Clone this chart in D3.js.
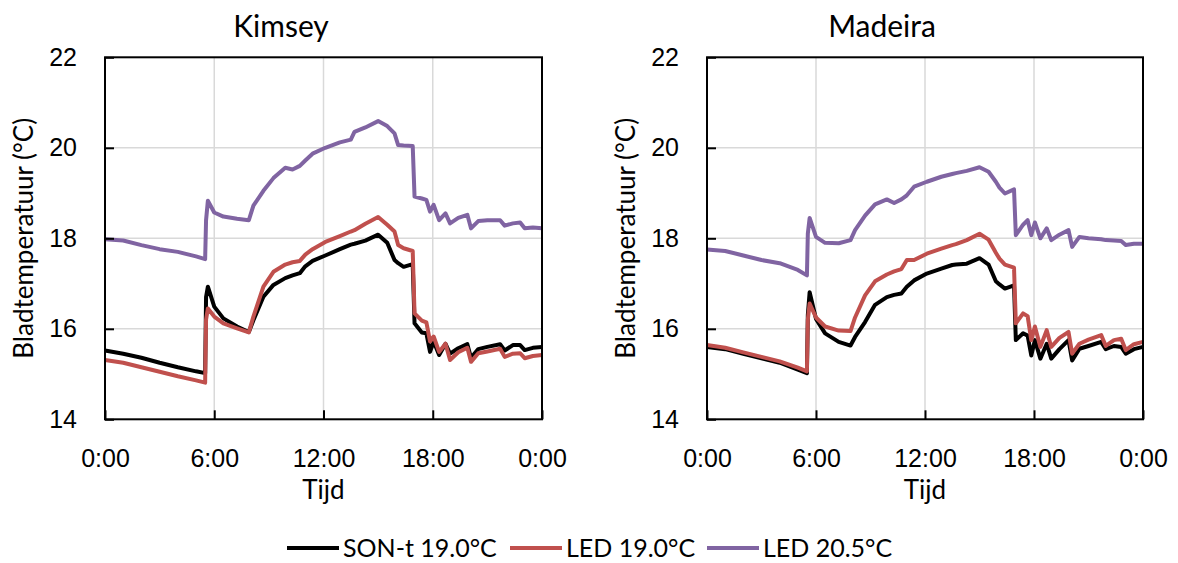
<!DOCTYPE html>
<html>
<head>
<meta charset="utf-8">
<script src="https://cdn.jsdelivr.net/npm/d3@7"></script>
<style>
  body { margin: 0; background: #fff; }
  svg { display: block; font-family: Lato, "Open Sans", sans-serif; }
</style>
</head>
<body>
<svg id="chart" width="1178" height="563"></svg>
<script>
// time of day in hours (shared by both panels)
const hours = [0, 1, 2, 3, 4, 5, 5.5, 5.55, 5.65, 6.0, 6.5, 7.25, 7.9, 8.15, 8.7, 9.25, 9.9, 10.3, 10.7, 11.0,
  11.4, 12.1, 12.9, 13.5, 13.7, 14.3, 15.0, 15.5, 15.9, 16.1, 16.4, 16.9, 17.0, 17.4, 17.65, 17.85, 18.05,
  18.35, 18.7, 18.95, 19.4, 19.9, 20.1, 20.5, 21.0, 21.7, 21.95, 22.4, 22.8, 23.05, 23.5, 24];

// Kimsey
const kimseySon = [15.52, 15.45, 15.36, 15.25, 15.15, 15.06, 15.02, 16.7, 16.93, 16.49, 16.23, 16.05, 15.93, 16.19,
  16.71, 16.97, 17.12, 17.18, 17.23, 17.38, 17.50, 17.62, 17.76, 17.86, 17.88, 17.95, 18.08, 17.90, 17.52, 17.45,
  17.37, 17.43, 16.12, 15.92, 15.90, 15.49, 15.72, 15.42, 15.67, 15.45, 15.57, 15.66, 15.36, 15.55, 15.60, 15.66,
  15.52, 15.64, 15.64, 15.53, 15.58, 15.60];
const kimseyLed19 = [15.31, 15.25, 15.15, 15.05, 14.95, 14.86, 14.81, 16.2, 16.45, 16.27, 16.12, 16.01, 15.92, 16.27,
  16.93, 17.26, 17.42, 17.47, 17.50, 17.64, 17.76, 17.92, 18.05, 18.15, 18.18, 18.32, 18.47, 18.30, 18.15, 17.85,
  17.78, 17.72, 16.34, 16.18, 16.14, 15.72, 15.83, 15.49, 15.67, 15.31, 15.48, 15.58, 15.27, 15.46, 15.50, 15.56,
  15.38, 15.45, 15.46, 15.35, 15.40, 15.42];
const kimseyLed205 = [17.98, 17.95, 17.85, 17.76, 17.70, 17.60, 17.54, 18.4, 18.83, 18.57, 18.48, 18.43, 18.40, 18.72,
  19.05, 19.33, 19.56, 19.52, 19.60, 19.72, 19.87, 20.00, 20.12, 20.18, 20.35, 20.45, 20.59, 20.48, 20.32, 20.06,
  20.05, 20.04, 18.92, 18.88, 18.85, 18.59, 18.74, 18.40, 18.55, 18.33, 18.45, 18.52, 18.22, 18.38, 18.40, 18.40,
  18.28, 18.33, 18.35, 18.22, 18.24, 18.22];

// Madeira
const madeiraSon = [15.60, 15.55, 15.45, 15.35, 15.25, 15.10, 15.02, 16.3, 16.81, 16.22, 15.90, 15.71, 15.63, 15.82,
  16.15, 16.53, 16.70, 16.75, 16.78, 16.93, 17.07, 17.22, 17.33, 17.41, 17.42, 17.44, 17.56, 17.42, 17.05, 16.98,
  16.89, 16.96, 15.75, 15.90, 15.85, 15.41, 15.75, 15.34, 15.67, 15.34, 15.55, 15.75, 15.30, 15.56, 15.62, 15.71,
  15.55, 15.62, 15.60, 15.45, 15.55, 15.60];
const madeiraLed19 = [15.64, 15.58, 15.48, 15.38, 15.28, 15.14, 15.06, 16.2, 16.56, 16.25, 16.05, 15.96, 15.95, 16.25,
  16.74, 17.05, 17.20, 17.27, 17.32, 17.52, 17.52, 17.66, 17.77, 17.85, 17.87, 17.96, 18.10, 17.97, 17.68, 17.55,
  17.42, 17.35, 16.12, 16.34, 16.28, 15.75, 16.05, 15.60, 15.97, 15.60, 15.80, 15.93, 15.45, 15.67, 15.76, 15.86,
  15.62, 15.75, 15.78, 15.53, 15.66, 15.71];
const madeiraLed205 = [17.75, 17.72, 17.62, 17.52, 17.45, 17.30, 17.18, 18.1, 18.45, 18.03, 17.90, 17.89, 17.96, 18.18,
  18.50, 18.75, 18.86, 18.78, 18.86, 18.95, 19.14, 19.25, 19.36, 19.42, 19.44, 19.49, 19.57, 19.47, 19.25, 19.12,
  18.99, 19.08, 18.07, 18.30, 18.40, 18.07, 18.35, 18.00, 18.22, 17.96, 18.08, 18.18, 17.81, 18.03, 18.00, 17.98,
  17.96, 17.95, 17.94, 17.85, 17.88, 17.88];

const seriesNames = ["SON-t 19.0°C", "LED 19.0°C", "LED 20.5°C"];
const seriesColors = ["#000000", "#C0504D", "#8064A2"];
const xTicks = [0, 6, 12, 18, 24];
const xTickLabels = ["0:00", "6:00", "12:00", "18:00", "0:00"];
const yTicks = [14, 16, 18, 20, 22];

const svg = d3.select("#chart");
const plotTop = 57.3, plotBottom = 419.3;

function drawPanel(left, right, titleX, title, series) {
  const x = d3.scaleLinear().domain([0, 24]).range([left, right]);
  const y = d3.scaleLinear().domain([14, 22]).range([plotBottom, plotTop]);
  const g = svg.append("g");

  // grid
  g.selectAll("line.vgrid").data(xTicks.slice(1, -1)).join("line")
    .attr("x1", d => x(d)).attr("x2", d => x(d))
    .attr("y1", plotTop).attr("y2", plotBottom)
    .attr("stroke", "#d9d9d9").attr("stroke-width", 1.5);
  g.selectAll("line.hgrid").data(yTicks.slice(1, -1)).join("line")
    .attr("x1", left).attr("x2", right)
    .attr("y1", d => y(d)).attr("y2", d => y(d))
    .attr("stroke", "#d9d9d9").attr("stroke-width", 1.5);

  // lines
  const line = d3.line().x((d, i) => x(hours[i])).y(d => y(d));
  series.forEach((vals, k) => {
    g.append("path")
      .datum(vals)
      .attr("fill", "none")
      .attr("stroke", seriesColors[k])
      .attr("stroke-width", 4)
      .attr("stroke-linejoin", "round")
      .attr("d", line);
  });

  // axes
  const xAxis = d3.axisBottom(x).tickValues(xTicks)
    .tickFormat((d, i) => xTickLabels[i])
    .tickSizeInner(-9).tickSizeOuter(0).tickPadding(30);
  const ax = g.append("g").attr("transform", `translate(0,${plotBottom})`).call(xAxis);

  const yAxis = d3.axisLeft(y).tickValues(yTicks)
    .tickSizeInner(-9).tickSizeOuter(0).tickPadding(28);
  const ay = g.append("g").attr("transform", `translate(${left},0)`).call(yAxis);

  [ax, ay].forEach(a => {
    a.select(".domain").remove();
    a.selectAll(".tick line").attr("stroke", "#000").attr("stroke-width", 2);
    a.selectAll(".tick text").attr("fill", "#000").style("font-size", "25px");
  });

  // frame
  g.append("rect")
    .attr("x", left).attr("y", plotTop)
    .attr("width", right - left).attr("height", plotBottom - plotTop)
    .attr("fill", "none").attr("stroke", "#000").attr("stroke-width", 2);

  // titles
  g.append("text").attr("x", titleX).attr("y", 37)
    .attr("text-anchor", "middle").style("font-size", "30px").text(title);
  g.append("text").attr("x", (left + right) / 2).attr("y", 499)
    .attr("text-anchor", "middle").style("font-size", "26px").text("Tijd");
  g.append("text")
    .attr("transform", `translate(${left - 72},${(plotTop + plotBottom) / 2}) rotate(-90)`)
    .attr("text-anchor", "middle").style("font-size", "26px").text("Bladtemperatuur (°C)");
}

drawPanel(105, 542, 281, "Kimsey", [kimseySon, kimseyLed19, kimseyLed205]);
drawPanel(707, 1143, 882, "Madeira", [madeiraSon, madeiraLed19, madeiraLed205]);

// legend
const legendX = [287, 510, 707];
const legend = svg.append("g");
seriesNames.forEach((name, i) => {
  legend.append("line")
    .attr("x1", legendX[i]).attr("x2", legendX[i] + 52)
    .attr("y1", 548).attr("y2", 548)
    .attr("stroke", seriesColors[i]).attr("stroke-width", 4);
  legend.append("text")
    .attr("x", legendX[i] + 56).attr("y", 557)
    .style("font-size", "25px").text(name);
});
</script>
</body>
</html>
